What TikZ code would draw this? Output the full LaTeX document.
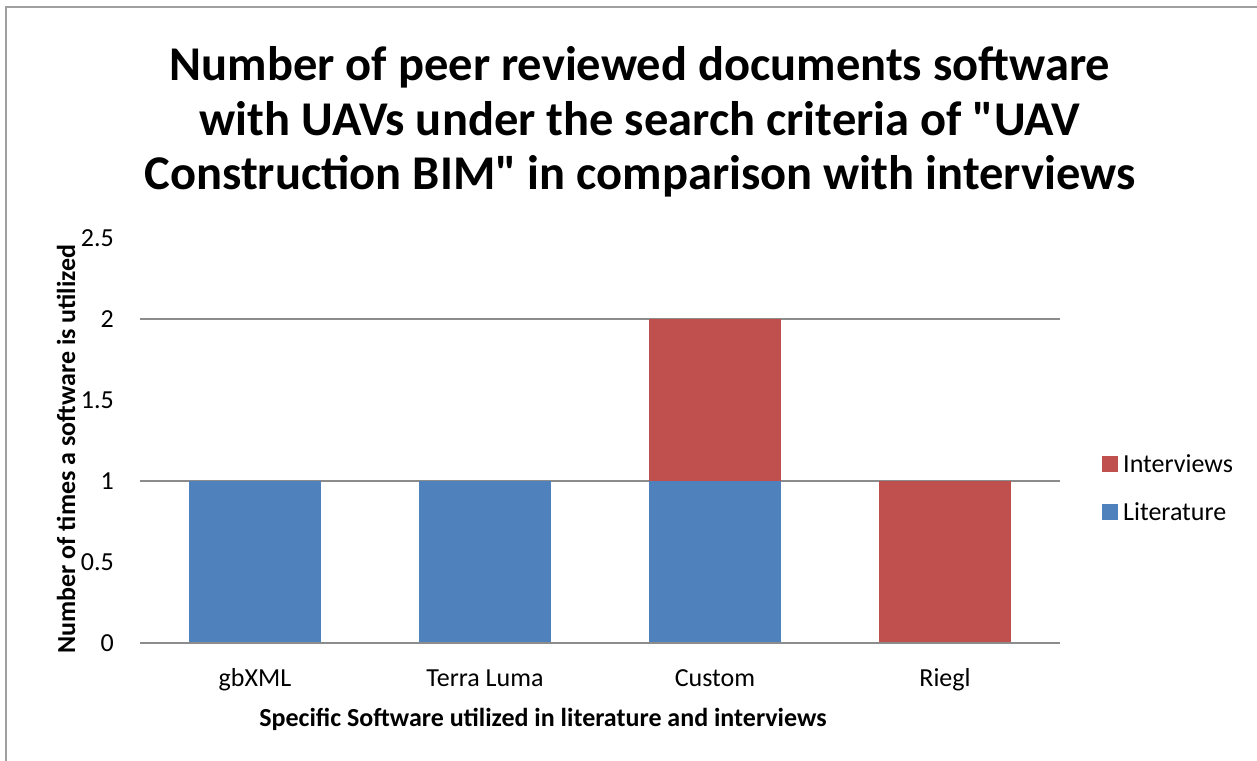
\documentclass[tikz,border=0pt]{standalone}
\usepackage{fontspec}
\setmainfont{Carlito}
\newfontfamily\calibriplain{Carlito}
\definecolor{litblue}{HTML}{4F81BD}
\definecolor{intred}{HTML}{C0504D}
\definecolor{gridgray}{HTML}{8C8C8C}
\definecolor{framegray}{HTML}{A0A0A0}
\begin{document}
\begin{tikzpicture}[x=1pt,y=-1pt,
  titletext/.style={font=\calibriplain\fontsize{48.5}{54.5}\selectfont\bfseries, align=center, text=black},
  ticklab/.style={font=\calibriplain\fontsize{26}{30}\selectfont, anchor=east, inner sep=0pt},
  catlab/.style={font=\calibriplain\fontsize{26}{30}\selectfont, anchor=base, inner sep=0pt},
  axtitle/.style={font=\calibriplain\fontsize{26}{30}\selectfont\bfseries, anchor=base, inner sep=0pt},
  gridline/.style={draw=gridgray, line width=1.6pt},
  litbar/.style={fill=litblue, draw=none},
  intbar/.style={fill=intred, draw=none},
  legsq/.style={minimum size=16pt, inner sep=0pt, draw=none},
  legtext/.style={font=\calibriplain\fontsize{26}{30}\selectfont, anchor=west, inner sep=0pt}]
\useasboundingbox (0,0) rectangle (1257,760);
\begin{scope}
\clip (0,0) rectangle (1257,760);
\draw[framegray, line width=2pt] (6,7) rectangle (1265,770);
\end{scope}
% title
\node[titletext] (title) at (640,122) {Number of peer reviewed documents software\\with UAVs under the search criteria of "UAV\\Construction BIM" in comparison with interviews};
% gridlines and tick labels
\foreach \v/\lab in {0/0,0.5/0.5,1/1,1.5/1.5,2/2,2.5/2.5}{
  \coordinate (gl\lab) at (140,643-162*\v);
  \coordinate (gr\lab) at (1060,643-162*\v);
  \draw[gridline] (gl\lab) -- (gr\lab);
  \node[ticklab] (t\lab) at (114,643-162*\v) {\lab};
}
% bars
\fill[litbar] (189,643) rectangle (321,481);
\fill[litbar] (419,643) rectangle (551,481);
\fill[litbar] (649,643) rectangle (781,481);
\fill[intbar] (649,481) rectangle (781,319);
\fill[intbar] (879,643) rectangle (1011,481);
\draw[gridline] (gl0) -- (gr0);
% category labels
\node[catlab] (c1) at (255,686) {gbXML};
\node[catlab] (c2) at (485,686) {Terra Luma};
\node[catlab] (c3) at (715,686) {Custom};
\node[catlab] (c4) at (945,686) {Riegl};
% axis titles
\node[axtitle] (xt) at (543,726) {Specific Software utilized in literature and interviews};
\node[axtitle, rotate=90] (yt) at (75,449) {Number of times a software is utilized};
% legend
\node[legsq, fill=intred] (lsq1) at (1110,464) {};
\node[legtext] (lt1) at (1123,464) {Interviews};
\node[legsq, fill=litblue] (lsq2) at (1110,512) {};
\node[legtext] (lt2) at (1123,512) {Literature};
\end{tikzpicture}
\end{document}
